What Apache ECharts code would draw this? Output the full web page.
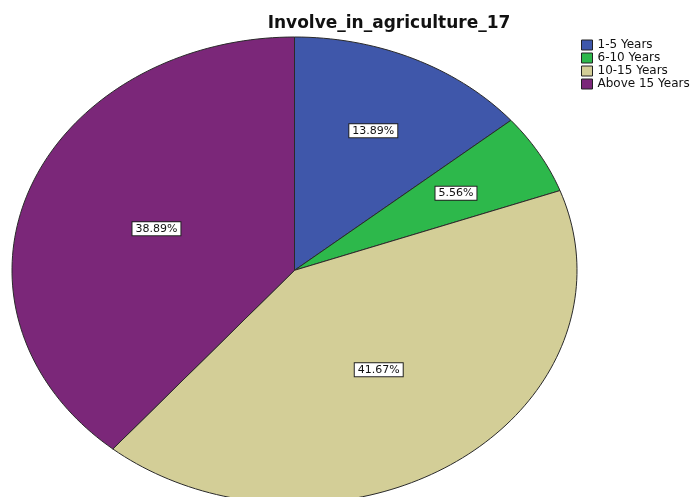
<!DOCTYPE html>
<html>
<head>
<meta charset="utf-8">
<script src="https://cdn.jsdelivr.net/npm/echarts@6/dist/echarts.min.js"></script>
<style>html,body{margin:0;padding:0;background:#fff;}#c{width:695px;height:497px;}</style>
</head>
<body>
<div id="c"></div>
<script>
var categories = ['1-5 Years', '6-10 Years', '10-15 Years', 'Above 15 Years'];
var percents = [13.89, 5.56, 41.67, 38.89];
var colors = ['#3F57AA', '#2DB84B', '#D3CE97', '#7B2779'];
var chartTitle = 'Involve_in_agriculture_17';

var total = percents.reduce(function (a, b) { return a + b; }, 0);
var CX = 294.5, CY = 270.3, RX = 282.5, RY = 233.3;
var FONT = '"DejaVu Sans", "Liberation Sans", Arial, sans-serif';

function startShare(i) {
  var s = 0;
  for (var k = 0; k < i; k++) s += percents[k];
  return s / total;
}

function renderSlice(params, api) {
  var i = params.seriesIndex;
  var v = api.value(0);
  var a0 = startShare(i) * Math.PI * 2;
  var a1 = a0 + (v / total) * Math.PI * 2;
  var pts = [[CX, CY]];
  var steps = Math.max(4, Math.ceil((a1 - a0) / (Math.PI * 2) * 240));
  for (var s = 0; s <= steps; s++) {
    var a = a0 + (a1 - a0) * s / steps;
    pts.push([CX + RX * Math.sin(a), CY - RY * Math.cos(a)]);
  }
  var mid = (a0 + a1) / 2;
  var lr = (v / total) < 0.25 ? 0.66 : 0.52;
  return {
    type: 'group',
    children: [
      {
        type: 'polygon',
        shape: { points: pts },
        style: { fill: api.visual('color'), stroke: '#2a2a2a', lineWidth: 1 }
      },
      {
        type: 'text',
        z2: 10,
        style: {
          text: v.toFixed(2) + '%',
          x: CX + RX * lr * Math.sin(mid),
          y: CY - RY * lr * Math.cos(mid),
          align: 'center',
          verticalAlign: 'middle',
          fill: '#111',
          font: '11px ' + FONT,
          backgroundColor: '#fff',
          borderColor: '#222',
          borderWidth: 1,
          padding: [1, 3, 1, 3]
        }
      }
    ]
  };
}

var series = categories.map(function (name, i) {
  return {
    type: 'custom',
    name: name,
    coordinateSystem: 'none',
    itemStyle: { color: colors[i] },
    renderItem: renderSlice,
    data: [[percents[i]]],
    silent: true,
    animation: false
  };
});

var chart = echarts.init(document.getElementById('c'), null, { renderer: 'canvas' });
chart.setOption({
  backgroundColor: '#fff',
  animation: false,
  title: {
    text: chartTitle,
    left: 384,
    textAlign: 'center',
    top: 10,
    textStyle: { fontFamily: FONT, fontWeight: 'bold', fontSize: 17, color: '#111' }
  },
  legend: {
    orient: 'vertical',
    left: 581,
    top: 39,
    padding: 0,
    itemWidth: 11,
    itemHeight: 10,
    itemGap: 1,
    icon: 'rect',
    itemStyle: { borderColor: '#222', borderWidth: 1 },
    textStyle: { fontFamily: FONT, fontSize: 12, lineHeight: 12, color: '#111', padding: [0, 0, 0, 0] },
    data: categories
  },
  series: series
});
</script>
</body>
</html>
